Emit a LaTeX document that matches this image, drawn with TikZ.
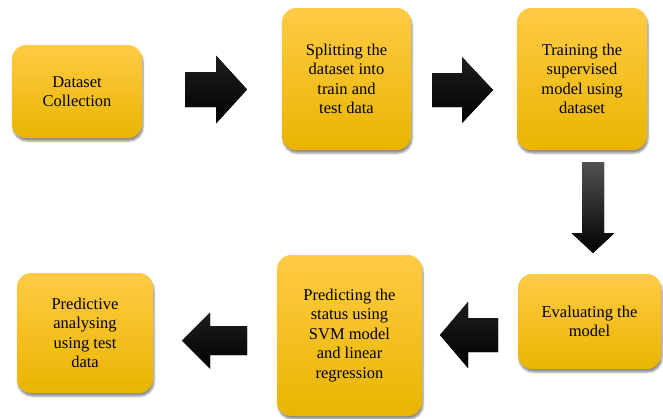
\documentclass[tikz,border=0pt]{standalone}
\usepackage{fontspec}
\setmainfont{Liberation Serif}
\usetikzlibrary{calc,shadows.blur}
\definecolor{boxtop}{HTML}{FFCB45}
\definecolor{boxmid}{HTML}{FFC000}
\definecolor{boxbot}{HTML}{E9B500}
\tikzset{
  stepbox/.style={rounded corners=14pt, top color=boxtop, middle color=boxmid, bottom color=boxbot,
    draw=none, align=center, inner sep=2pt, text=black,
    font=\fontsize{16.5}{19.5}\selectfont,
    blur shadow={shadow xshift=1pt, shadow yshift=-3pt, shadow blur steps=6, shadow opacity=45}},
  blockarrow/.style={top color=black!88, bottom color=black, draw=none},
  downarrow/.style={top color=black!68, bottom color=black, draw=none}
}
\newcommand{\blockarrow}[6][blockarrow]{%
  \fill[#1]
    ($(#2)!#4!90:(#3)$) -- ($($(#3)!#6!(#2)$)!#4!90:(#3)$) --
    ($($(#3)!#6!(#2)$)!#5!90:(#3)$) -- (#3) --
    ($($(#3)!#6!(#2)$)!#5!-90:(#3)$) -- ($($(#3)!#6!(#2)$)!#4!-90:(#3)$) --
    ($(#2)!#4!-90:(#3)$) -- cycle;}
\begin{document}
\begin{tikzpicture}[x=1pt,y=-1pt]
\useasboundingbox (0,0) rectangle (663,418);
\node[stepbox, minimum width=130pt, minimum height=93pt] (b1) at (77,91.5) {Dataset\\Collection};
\node[stepbox, minimum width=129pt, minimum height=142pt] (b2) at (346.5,79) {Splitting the\\dataset into\\train and\\test data};
\node[stepbox, minimum width=130pt, minimum height=142pt] (b3) at (582,79) {Training the\\supervised\\model using\\dataset};
\node[stepbox, minimum width=143pt, minimum height=95pt] (b4) at (589.5,321.5) {Evaluating the\\model};
\node[stepbox, minimum width=145pt, minimum height=161pt] (b5) at (349.5,335.5) {Predicting the\\status using\\SVM model\\and linear\\regression};
\node[stepbox, minimum width=136pt, minimum height=120pt] (b6) at (85,333) {Predictive\\analysing\\using test\\data};
\coordinate (a1s) at (185,89.5); \coordinate (a1e) at (247,89.5);
\coordinate (a2s) at (432,90);   \coordinate (a2e) at (493,90);
\coordinate (a3s) at (593,162);  \coordinate (a3e) at (593,253);
\coordinate (a4s) at (498,335);  \coordinate (a4e) at (440,335);
\coordinate (a5s) at (247,340.5);\coordinate (a5e) at (182,340.5);
\blockarrow{a1s}{a1e}{17.5pt}{34pt}{31pt}
\blockarrow{a2s}{a2e}{17pt}{33pt}{31pt}
\blockarrow[downarrow]{a3s}{a3e}{11pt}{21.5pt}{20pt}
\blockarrow{a4s}{a4e}{17pt}{33pt}{28pt}
\blockarrow{a5s}{a5e}{14.5pt}{28pt}{28pt}
\end{tikzpicture}
\end{document}
